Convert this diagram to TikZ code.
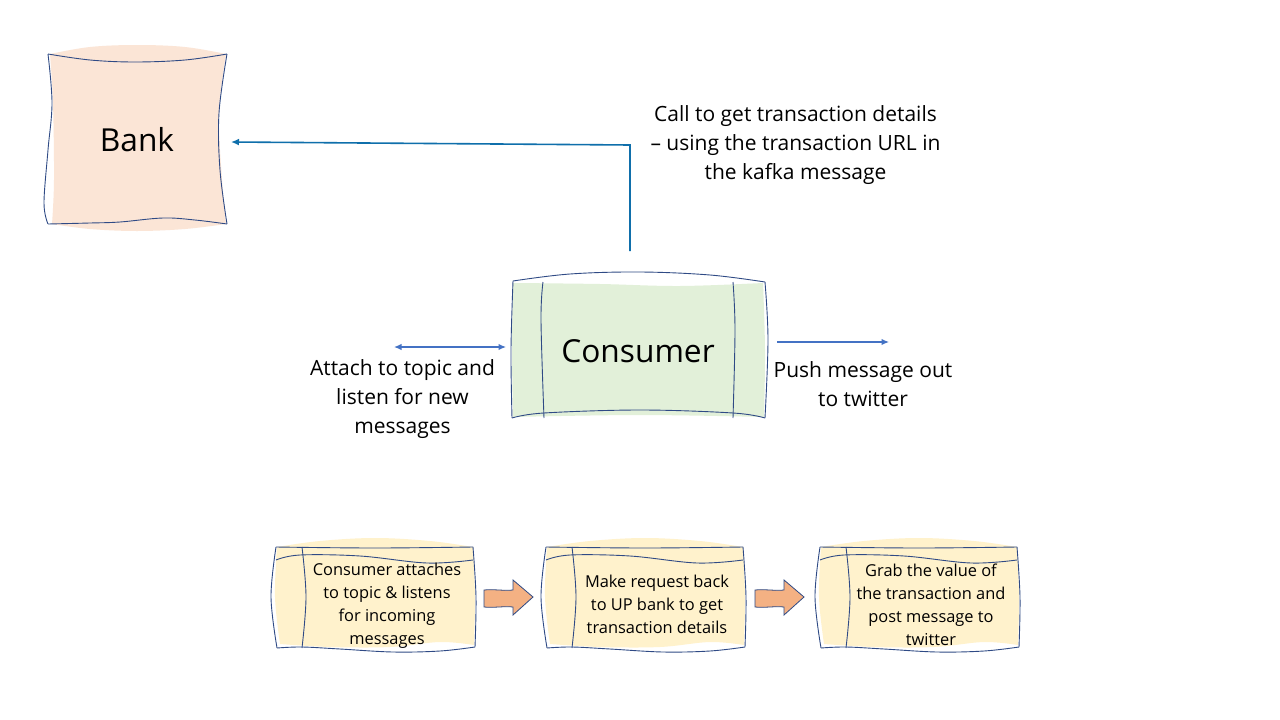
\documentclass[tikz,border=0pt]{standalone}
\usepackage{fontspec}
\setmainfont{Open Sans}
\usetikzlibrary{arrows.meta}
\definecolor{inkline}{HTML}{2F4A85}
\definecolor{bankfill}{HTML}{FBE5D6}
\definecolor{consfill}{HTML}{E2F0D9}
\definecolor{stepfill}{HTML}{FFF2CC}
\definecolor{arrowfill}{HTML}{F4B183}
\definecolor{callblue}{HTML}{0F6FAB}
\definecolor{thinblue}{HTML}{4472C4}
\tikzset{
  sketch/.style={draw=inkline,line width=0.9pt,line join=round},
  sm/.style={smooth,tension=0.6},
  bigtext/.style={font=\fontsize{31.7}{40}\selectfont,text=black,inner sep=0pt},
  midtext/.style={font=\fontsize{21}{29}\selectfont,align=center,text=black,inner sep=0pt},
  smalltext/.style={font=\fontsize{16.4}{23}\selectfont,align=center,text=black,inner sep=0pt},
  thinarrow/.style={draw=thinblue,line width=1.3pt},
  thintip/.tip={Latex[length=7.5pt,width=6.5pt]},
  blockarrow/.style={fill=arrowfill,draw=inkline,line width=0.8pt,line join=miter},
}
\newcommand{\stepshape}{%
  \fill[stepfill] plot[sm] coordinates {(277,547) (320,541) (375,538) (430,541) (473,547)}
    -- plot[sm] coordinates {(473,547) (475,597) (474,645)}
    -- plot[sm] coordinates {(474,645) (440,642) (390,647) (330,647) (280,644)}
    -- plot[sm] coordinates {(280,644) (275,597) (277,547)} -- cycle;
  \draw[sketch] plot[sm] coordinates {(276,547) (375,548) (473,547)};
  \draw[sketch] plot[sm] coordinates {(473,547) (476,597) (475,647)};
  \draw[sketch] plot[sm] coordinates {(475,647) (440,651) (393,652) (340,649) (302,647) (277,648)};
  \draw[sketch] plot[sm] coordinates {(277,648) (271,597) (276,547)};
  \draw[sketch] plot[sm] coordinates {(276,560) (300,555) (360,556) (427,563) (473,560)};
  \draw[sketch] plot[sm] coordinates {(302,547) (306,597) (302,648)};
}
\newcommand{\blockshape}{%
  \path[blockarrow] (484,590) .. controls (494,589) and (504,591) .. (513,590) -- (513,580) -- (533,597) -- (513,615) -- (513,607)
    .. controls (504,606) and (494,608) .. (484,607) -- cycle;
}
\begin{document}
\begin{tikzpicture}[x=1pt,y=-1pt]
\useasboundingbox (0,0) rectangle (1280,720);
\fill[white] (0,0) rectangle (1280,720);
% Bank
\fill[bankfill] plot[sm] coordinates {(50,54) (90,47) (137,45) (185,47) (226,54)}
  -- plot[sm] coordinates {(226,54) (219,113) (222,180) (226,224)}
  -- plot[sm] coordinates {(226,224) (185,229) (137,231) (90,229) (52,224)}
  -- plot[sm] coordinates {(52,224) (54,180) (53,103) (50,54)} -- cycle;
\draw[sketch] plot[sm] coordinates {(48,54) (90,60) (135,62) (185,60) (227,54)};
\draw[sketch] plot[sm] coordinates {(227,54) (219,113) (220,170) (227,224)};
\draw[sketch] plot[sm] coordinates {(227,224) (195,220) (163,218) (120,222) (90,223) (48,224)};
\draw[sketch] plot[sm] coordinates {(48,224) (44,203) (48,150) (52,103) (48,54)};
\node[bigtext,minimum width=179pt,minimum height=170pt] (bank) at (137,140) {Bank};
% Consumer
\fill[consfill] plot[sm] coordinates {(513,283) (600,284) (680,286) (763,283)}
  -- plot[sm] coordinates {(763,283) (765,350) (764,417)}
  -- plot[sm] coordinates {(764,417) (640,415) (513,417)}
  -- plot[sm] coordinates {(513,417) (512,350) (513,283)} -- cycle;
\draw[sketch] plot[sm] coordinates {(513,281) (570,274) (640,272) (710,275) (765,282)};
\draw[sketch] plot[sm] coordinates {(765,282) (768,340) (765,418)};
\draw[sketch] plot[sm] coordinates {(765,418) (733,413) (640,410) (544,413) (512,418)};
\draw[sketch] plot[sm] coordinates {(512,418) (511,350) (513,281)};
\draw[sketch] plot[sm] coordinates {(543,282) (541,320) (544,418)};
\draw[sketch] plot[sm] coordinates {(733,282) (735,330) (733,418)};
\node[bigtext,minimum width=253pt,minimum height=137pt] (consumer) at (638,351) {Consumer};
% Connectors
\coordinate (callstart) at (630,251);
\coordinate (callbend) at (630,145);
\coordinate (bankend) at (231,142);
\coordinate (attachL) at (394,347);
\coordinate (attachR) at (506,347);
\coordinate (pushL) at (777,342);
\coordinate (pushR) at (889,342);
\draw[draw=callblue,line width=1.6pt,line join=miter,-{Latex[length=8pt,width=7pt]}] (callstart) -- (callbend) -- (bankend);
\draw[thinarrow,thintip-thintip] (attachL) -- (attachR);
\draw[thinarrow,-thintip] (pushL) -- (pushR);
% Labels
\node[midtext] (calllabel) at (795.5,145.5) {Call to get transaction details\\– using the transaction URL in\\the kafka message};
\node[midtext] (attachlabel) at (402.5,399.5) {Attach to topic and\\listen for new\\messages};
\node[midtext] (pushlabel) at (863,384) {Push message out\\to twitter};
% Steps
\stepshape
\begin{scope}[shift={(270,0)}]\stepshape\end{scope}
\begin{scope}[shift={(544,0)}]\stepshape\end{scope}
\blockshape
\begin{scope}[shift={(271,0)}]\blockshape\end{scope}
\node[smalltext] (stepA) at (387,606) {Consumer attaches\\to topic \& listens\\for incoming\\messages};
\node[smalltext] (stepB) at (657,604.5) {Make request back\\to UP bank to get\\transaction details};
\node[smalltext] (stepC) at (931,604.5) {Grab the value of\\the transaction and\\post message to\\twitter};
\end{tikzpicture}
\end{document}
